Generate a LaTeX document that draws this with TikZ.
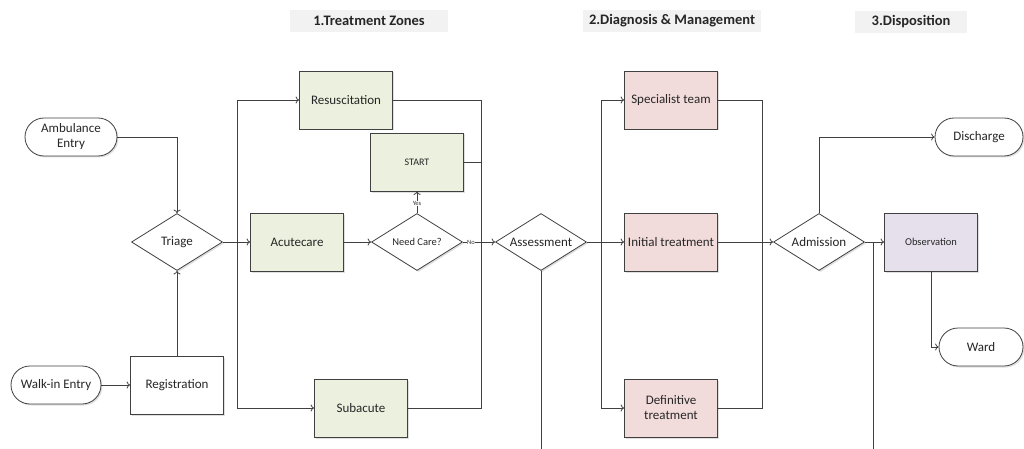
\documentclass[tikz,border=0pt]{standalone}
\usepackage{fontspec}
\setmainfont{Carlito}
\usetikzlibrary{arrows.meta,shapes.geometric,shadows,calc}
\definecolor{edgec}{HTML}{404040}
\definecolor{greenf}{HTML}{EBF1DE}
\definecolor{pinkf}{HTML}{F2DCDB}
\definecolor{lavf}{HTML}{E6E0EC}
\definecolor{headf}{HTML}{F2F2F2}
\tikzset{
  base/.style={draw=edgec, line width=0.8pt, align=center, inner sep=1pt,
    font=\fontsize{13}{15}\selectfont, text=black!85,
    drop shadow={shadow xshift=1.5pt, shadow yshift=-1.5pt, opacity=0.25}},
  box/.style={base, rectangle, minimum width=93pt, minimum height=58pt},
  gbox/.style={box, fill=greenf},
  pbox/.style={box, fill=pinkf},
  lbox/.style={box, fill=lavf},
  wbox/.style={box, fill=white},
  pill/.style={base, rectangle, fill=white, rounded corners=19pt, minimum height=38pt},
  dia/.style={base, diamond, fill=white, inner sep=0pt, minimum width=91pt, minimum height=57pt},
  dtext/.style={font=\fontsize{13}{15}\selectfont, text=black!85, inner sep=0pt},
  head/.style={fill=headf, font=\fontsize{14.5}{16}\selectfont\bfseries, text=black!85, minimum height=22pt, inner sep=0pt},
  conn/.style={draw=edgec, line width=0.8pt},
  arr/.style={conn, -{To[length=3.5pt,width=7pt]}},
  small/.style={font=\fontsize{6.5}{7.5}\selectfont, text=black!80, inner sep=0.5pt},
}
\begin{document}
\begin{tikzpicture}[x=1pt,y=-1pt]
\useasboundingbox (0,0) rectangle (1024,449);
% headers
\node[head, minimum width=158pt] (h1) at (369,21) {1.Treatment Zones};
\node[head, minimum width=178pt] (h2) at (672,21) {2.Diagnosis \& Management};
\node[head, minimum width=112pt] (h3) at (911,22) {3.Disposition};
% nodes
\node[pill, minimum width=92pt] (amb) at (71,137) {Ambulance\\Entry};
\node[pill, minimum width=90pt] (walk) at (56,385) {Walk-in Entry};
\node[wbox] (reg) at (177,385) {Registration};
\node[dia] (tri) at (177,242) {};
\node[dtext] (trit) at (tri.center) {Triage};
\node[gbox] (res) at (346,100) {Resuscitation};
\node[gbox, font=\fontsize{10}{12}\selectfont] (start) at (417,162) {START};
\node[gbox] (acu) at (297,242) {Acutecare};
\node[dia] (need) at (417,242) {};
\node[dtext, font=\fontsize{10.5}{12}\selectfont] (needt) at (need.center) {Need Care?};
\node[gbox] (sub) at (361,408) {Subacute};
\node[dia] (ass) at (541,242) {};
\node[dtext] (asst) at (ass.center) {Assessment};
\node[pbox] (spec) at (671,100) {Specialist team};
\node[pbox] (init) at (671,242) {Initial treatment};
\node[pbox] (defi) at (671,408) {Definitive\\treatment};
\node[dia] (adm) at (819,242) {};
\node[dtext] (admt) at (adm.center) {Admission};
\node[lbox, font=\fontsize{10.5}{12}\selectfont] (obs) at (931,242) {Observation};
\node[pill, minimum width=88pt] (dis) at (979,137) {Discharge};
\node[pill, minimum width=84pt] (ward) at (981,347) {Ward};
% junction coordinates
\coordinate (bL) at (237,242);
\coordinate (bR) at (481,242);
\coordinate (cL) at (601,242);
\coordinate (cR) at (762,242);
\coordinate (assEnd) at (541,449);
\coordinate (admEnd) at (873,449);
\coordinate (admJ) at (873,242);
% connectors
\draw[arr] (amb.east) -| (tri.north);
\draw[arr] (walk.east) -- (reg.west);
\draw[arr] (reg.north) -- (tri.south);
\draw[arr] (tri.east) -- (acu.west);
\draw[arr] (bL) |- (res.west);
\draw[arr] (bL) |- (sub.west);
\draw[conn] (res.east) -| (bR);
\draw[conn] (sub.east) -| (bR);
\draw[conn] (start.east) -- (start.east -| bR);
\draw[arr] (acu.east) -- (need.west);
\draw[arr] (need.north) -- node[small, fill=white, pos=0.45] {Yes} (start.south);
\draw[arr] (need.east) -- node[small, fill=white, pos=0.25] {No} (ass.west);
\draw[arr] (ass.east) -- (init.west);
\draw[conn] (ass.south) -- (assEnd);
\draw[arr] (cL) |- (spec.west);
\draw[arr] (cL) |- (defi.west);
\draw[conn] (spec.east) -| (cR);
\draw[conn] (defi.east) -| (cR);
\draw[arr] (init.east) -- (adm.west);
\draw[arr] (adm.north) |- (dis.west);
\draw[arr] (adm.east) -- (obs.west);
\draw[conn] (admJ) -- (admEnd);
\draw[arr] (obs.south) |- (ward.west);
\end{tikzpicture}
\end{document}
